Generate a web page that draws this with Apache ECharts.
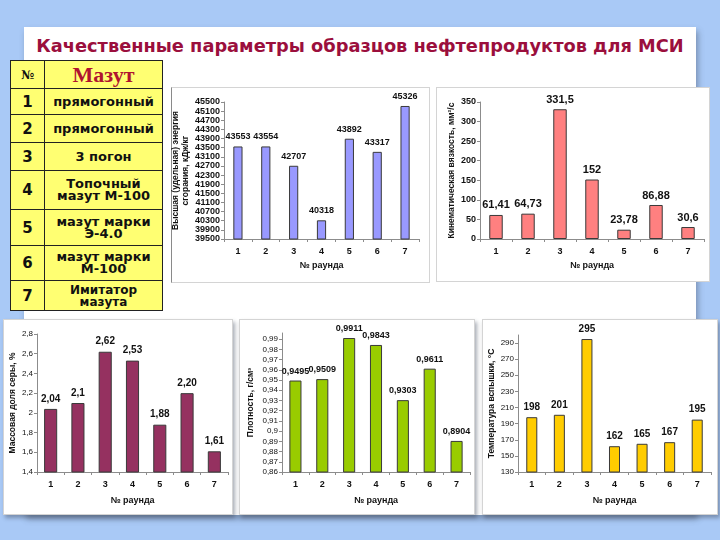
<!DOCTYPE html>
<html>
<head>
<meta charset="utf-8">
<script src="https://cdn.jsdelivr.net/npm/echarts@6/dist/echarts.min.js"></script>
<style>
  html, body { margin: 0; padding: 0; }
  body { width: 720px; height: 540px; background: #a9c9f6; position: relative; overflow: hidden; font-family: "Liberation Sans", Arial, sans-serif; }
  .abs { position: absolute; box-sizing: border-box; }
  #panel { left: 24px; top: 27px; width: 672px; height: 488px; background: #fff; box-shadow: 2px 4px 6px rgba(60,70,90,0.45); }
  #title { left: 24px; top: 35px; width: 672px; text-align: center; font: bold 17.8px "DejaVu Sans", sans-serif; color: #9b0f3d; white-space: nowrap; }
  .box { background: #fff; border: 1px solid #d4d4d4; }
  .sh { box-shadow: 2px 3px 4px rgba(60,70,90,0.45); }
  table { border-collapse: collapse; background: #ffff72; }
  td { border: 1.5px solid #222; text-align: center; vertical-align: middle; padding: 0; font: bold 13px "DejaVu Sans", sans-serif; color: #111; line-height: 12px; }
  td.n { font: bold 15px "DejaVu Sans", sans-serif; }
  #chart { left: 0; top: 0; width: 720px; height: 540px; }
</style>
</head>
<body>
<div id="panel" class="abs"></div>
<div id="title" class="abs">Качественные параметры образцов нефтепродуктов для МСИ</div>

<table id="tbl" class="abs" style="left:10px; top:60px; width:153px;">
  <tr style="height:28px"><td style="width:33px; font:bold 12px 'DejaVu Serif', serif;">№</td><td style="font:bold 22px 'Liberation Serif', serif; color:#b0132f;">Мазут</td></tr>
  <tr style="height:26px"><td class="n">1</td><td>прямогонный</td></tr>
  <tr style="height:28px"><td class="n">2</td><td>прямогонный</td></tr>
  <tr style="height:28px"><td class="n">3</td><td>3 погон</td></tr>
  <tr style="height:39px"><td class="n">4</td><td>Топочный<br>мазут М-100</td></tr>
  <tr style="height:36px"><td class="n">5</td><td>мазут марки<br>Э-4.0</td></tr>
  <tr style="height:35px"><td class="n">6</td><td>мазут марки<br>М-100</td></tr>
  <tr style="height:30px"><td class="n">7</td><td style="font-size:12px">Имитатор<br>мазута</td></tr>
</table>

<div class="abs box" style="left:171px; top:87px; width:259px; height:196px; border-left-color:#8a8a8a;"></div>
<div class="abs box" style="left:436px; top:87px; width:274px; height:195px;"></div>
<div class="abs box sh" style="left:3px; top:319px; width:230px; height:196px;"></div>
<div class="abs box sh" style="left:239px; top:319px; width:236px; height:196px;"></div>
<div class="abs box sh" style="left:482px; top:319px; width:236px; height:196px;"></div>

<div id="chart" class="abs"></div>

<script>
// ---- data ----
const rounds = ['1', '2', '3', '4', '5', '6', '7'];

const energyValues = [43553, 43554, 42707, 40318, 43892, 43317, 45326];
const energyLabels = ['43553', '43554', '42707', '40318', '43892', '43317', '45326'];

const viscosityValues = [61.41, 64.73, 331.5, 152, 23.78, 86.88, 30.6];
const viscosityLabels = ['61,41', '64,73', '331,5', '152', '23,78', '86,88', '30,6'];

const sulfurValues = [2.04, 2.1, 2.62, 2.53, 1.88, 2.20, 1.61];
const sulfurLabels = ['2,04', '2,1', '2,62', '2,53', '1,88', '2,20', '1,61'];

const densityValues = [0.9495, 0.9509, 0.9911, 0.9843, 0.9303, 0.9611, 0.8904];
const densityLabels = ['0,9495', '0,9509', '0,9911', '0,9843', '0,9303', '0,9611', '0,8904'];

const flashValues = [198, 201, 295, 162, 165, 167, 195];
const flashLabels = ['198', '201', '295', '162', '165', '167', '195'];

const xName = '№ раунда';

// ---- build ----
const FONT = '"Liberation Sans", Arial, sans-serif';
const commaFmt = v => String(Math.round(v * 10000) / 10000).replace('.', ',');

const specs = [
  { grid: { left: 224, top: 102, width: 195, height: 137 }, min: 39500, max: 45500, interval: 400,
    values: energyValues, labels: energyLabels, color: '#9999ff', barWidth: '33%',
    yName: 'Высшая (удельная) энергия\nсгорания, кДж/кг', nameGap: 30, tickBold: true, tickSize: 9,
    labelSize: 9, labelDist: 5, xGap: 22, showMax: true },
  { grid: { left: 480, top: 102, width: 224, height: 137 }, min: 0, max: 350, interval: 50,
    values: viscosityValues, labels: viscosityLabels, color: '#ff8080', barWidth: '42%',
    yName: 'Кинематическая вязкость, мм²/с', nameGap: 22, tickBold: true, tickSize: 9,
    labelSize: 11, labelDist: 4, xGap: 22, showMax: true },
  { grid: { left: 37, top: 334, width: 191, height: 138 }, min: 1.4, max: 2.8, interval: 0.2,
    values: sulfurValues, labels: sulfurLabels, color: '#953160', barWidth: '48%',
    yName: 'Массовая доля серы, %', nameGap: 18, tickBold: false, tickSize: 8,
    labelSize: 10, labelDist: 5, xGap: 24, showMax: true },
  { grid: { left: 282, top: 333, width: 188, height: 139 }, min: 0.86, max: 0.996, interval: 0.01,
    values: densityValues, labels: densityLabels, color: '#99cc00', barWidth: '45%',
    yName: 'Плотность, г/см³', nameGap: 26, tickBold: false, tickSize: 8,
    labelSize: 9, labelDist: 5, xGap: 24, showMax: false },
  { grid: { left: 518, top: 335, width: 193, height: 137 }, min: 130, max: 300, interval: 20,
    values: flashValues, labels: flashLabels, color: '#ffcc00', barWidth: '40%',
    yName: 'Температура вспышки, °С', nameGap: 20, tickBold: false, tickSize: 8,
    labelSize: 10, labelDist: 5, xGap: 24, showMax: false }
];

const option = { animation: false, grid: [], xAxis: [], yAxis: [], series: [] };

specs.forEach((s, i) => {
  option.grid.push(Object.assign({ containLabel: false }, s.grid));
  option.xAxis.push({
    type: 'category', gridIndex: i, data: rounds,
    name: xName, nameLocation: 'middle', nameGap: s.xGap,
    nameTextStyle: { fontFamily: FONT, fontSize: 9, fontWeight: 'bold', color: '#111' },
    axisLine: { lineStyle: { color: '#8c8c8c', width: 1 } },
    axisTick: { show: true, length: 3, lineStyle: { color: '#8c8c8c' } },
    axisLabel: { fontFamily: FONT, fontSize: 9, fontWeight: 'bold', color: '#111', margin: 8 }
  });
  option.yAxis.push({
    type: 'value', gridIndex: i, min: s.min, max: s.max, interval: s.interval,
    name: s.yName, nameLocation: 'middle', nameRotate: 90, nameGap: s.nameGap,
    nameTextStyle: { fontFamily: FONT, fontSize: 8.5, fontWeight: 'bold', color: '#111', lineHeight: 10 },
    splitLine: { show: false },
    axisLine: { show: true, lineStyle: { color: '#8c8c8c', width: 1 } },
    axisTick: { show: true, length: 3, lineStyle: { color: '#8c8c8c' } },
    axisLabel: {
      fontFamily: FONT, fontSize: s.tickSize, fontWeight: s.tickBold ? 'bold' : 'normal', color: '#111',
      margin: 4, showMaxLabel: s.showMax, formatter: commaFmt
    }
  });
  option.series.push({
    type: 'bar', xAxisIndex: i, yAxisIndex: i, data: s.values, barWidth: s.barWidth, clip: true,
    itemStyle: { color: s.color, borderColor: '#3a3a3a', borderWidth: 1 },
    label: {
      show: true, position: 'top', distance: s.labelDist,
      fontFamily: FONT, fontSize: s.labelSize, fontWeight: 'bold', color: '#111',
      formatter: p => s.labels[p.dataIndex]
    }
  });
});

const chart = echarts.init(document.getElementById('chart'), null, { renderer: 'canvas' });
chart.setOption(option);
</script>
</body>
</html>
